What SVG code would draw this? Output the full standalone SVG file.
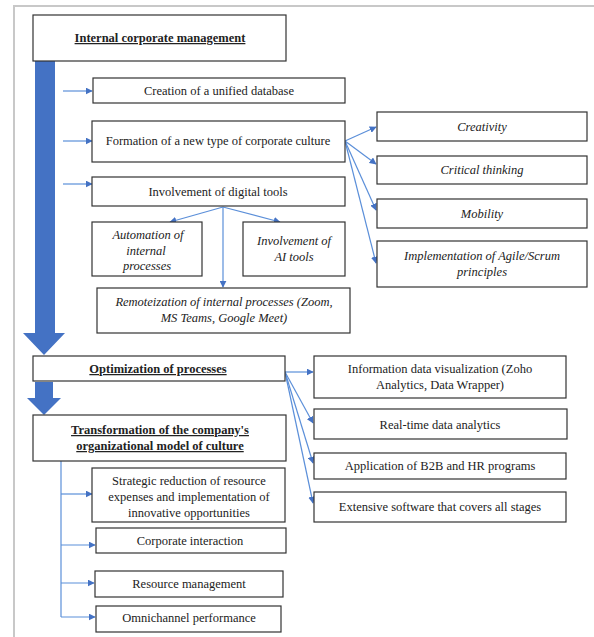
<svg xmlns="http://www.w3.org/2000/svg" width="594" height="637" viewBox="0 0 594 637">
<defs>
<marker id="ah" viewBox="0 0 10 10" refX="9" refY="5" markerWidth="7" markerHeight="7" orient="auto" markerUnits="userSpaceOnUse">
<path d="M0,0 L10,5 L0,10 z" fill="#4472C4"/>
</marker>
<style>
.box{fill:#fff;stroke:#333;stroke-width:1.2}
.t{font-family:"Liberation Serif","Times New Roman",serif;font-size:12.5px;fill:#222;text-anchor:middle}
.i{font-style:italic}
.b{font-weight:bold;text-decoration:underline}
.c{fill:none;stroke:#5B8FD9;stroke-width:1.2;marker-end:url(#ah)}
.cl{fill:none;stroke:#5B8FD9;stroke-width:1.2}
.big{fill:#4472C4}
</style>
</defs>
<rect width="594" height="637" fill="#fff"/>
<path d="M14,637 V6 H594" fill="none" stroke="#c8c8c8" stroke-width="2"/>

<g id="bigarrows">
<polygon class="big" points="35,61 55,61 55,333 65,333 44,355 23,333 35,333"/>
<polygon class="big" points="35,382 53,382 53,398 61,398 44,415 27,398 35,398"/>
</g>

<g id="connectors">
<line class="c" x1="63" y1="91" x2="92" y2="91"/>
<line class="c" x1="63" y1="141" x2="92" y2="141"/>
<line class="c" x1="63" y1="184" x2="92" y2="184"/>
<line class="c" x1="223" y1="207" x2="170" y2="222"/>
<line class="c" x1="223" y1="207" x2="280" y2="222"/>
<line class="c" x1="223" y1="207" x2="223" y2="287"/>
<line class="c" x1="345" y1="141" x2="376" y2="127"/>
<line class="c" x1="345" y1="141" x2="376" y2="164"/>
<line class="c" x1="345" y1="141" x2="376" y2="210"/>
<line class="c" x1="345" y1="141" x2="376" y2="263"/>
<line class="c" x1="285" y1="372" x2="313" y2="372"/>
<line class="c" x1="285" y1="372" x2="313" y2="423"/>
<line class="c" x1="285" y1="372" x2="313" y2="463"/>
<line class="c" x1="285" y1="372" x2="313" y2="503"/>
<line class="cl" x1="61" y1="461" x2="61" y2="617"/>
<line class="c" x1="61" y1="494" x2="92" y2="494"/>
<line class="c" x1="61" y1="545" x2="95" y2="545"/>
<line class="c" x1="61" y1="583" x2="94" y2="583"/>
<line class="c" x1="61" y1="617" x2="95" y2="617"/>
</g>

<g id="n-internal"><rect class="box" x="33" y="15" width="253" height="46"/><text class="t b" x="160" y="42">Internal corporate management</text></g>
<g id="n-creation"><rect class="box" x="93" y="78" width="252" height="25"/><text class="t" x="219" y="95">Creation of a unified database</text></g>
<g id="n-formation"><rect class="box" x="92" y="121" width="253" height="41"/><text class="t" x="218" y="145">Formation of a new type of corporate culture</text></g>
<g id="n-digital"><rect class="box" x="92" y="177" width="253" height="29"/><text class="t" x="218" y="196">Involvement of digital tools</text></g>
<g id="n-automation"><rect class="box" x="92" y="222" width="110" height="54"/><text class="t i" x="148" y="239">Automation of</text><text class="t i" x="146" y="255">internal</text><text class="t i" x="147" y="270">processes</text></g>
<g id="n-ai"><rect class="box" x="243" y="222" width="102" height="54"/><text class="t i" x="294" y="245">Involvement of</text><text class="t i" x="294" y="261">AI tools</text></g>
<g id="n-remote"><rect class="box" x="97" y="288" width="253" height="45"/><text class="t i" x="224" y="306">Remoteization of internal processes (Zoom,</text><text class="t i" x="224" y="322">MS Teams, Google Meet)</text></g>
<g id="n-creativity"><rect class="box" x="377" y="112" width="210" height="29"/><text class="t i" x="482" y="131">Creativity</text></g>
<g id="n-critical"><rect class="box" x="377" y="156" width="210" height="28"/><text class="t i" x="482" y="174">Critical thinking</text></g>
<g id="n-mobility"><rect class="box" x="377" y="199" width="210" height="29"/><text class="t i" x="482" y="218">Mobility</text></g>
<g id="n-agile"><rect class="box" x="377" y="241" width="210" height="46"/><text class="t i" x="482" y="260">Implementation of Agile/Scrum</text><text class="t i" x="482" y="276">principles</text></g>
<g id="n-optimization"><rect class="box" x="33" y="356" width="252" height="25"/><text class="t b" x="158" y="373">Optimization of processes</text></g>
<g id="n-infovis"><rect class="box" x="314" y="356" width="252" height="42"/><text class="t" x="440" y="373">Information data visualization (Zoho</text><text class="t" x="440" y="389">Analytics, Data Wrapper)</text></g>
<g id="n-realtime"><rect class="box" x="314" y="409" width="253" height="30"/><text class="t" x="440" y="429">Real-time data analytics</text></g>
<g id="n-b2b"><rect class="box" x="314" y="453" width="252" height="26"/><text class="t" x="440" y="470">Application of B2B and HR programs</text></g>
<g id="n-extensive"><rect class="box" x="314" y="492" width="252" height="30"/><text class="t" x="440" y="511">Extensive software that covers all stages</text></g>
<g id="n-transformation"><rect class="box" x="33" y="415" width="253" height="46"/><text class="t b" x="160" y="434">Transformation of the company's</text><text class="t b" x="160" y="450">organizational model of culture</text></g>
<g id="n-strategic"><rect class="box" x="92" y="468" width="193" height="54"/><text class="t" x="189" y="485">Strategic reduction of resource</text><text class="t" x="189" y="501">expenses and implementation  of</text><text class="t" x="189" y="517">innovative opportunities</text></g>
<g id="n-corporate"><rect class="box" x="96" y="528" width="190" height="25"/><text class="t" x="190" y="545">Corporate interaction</text></g>
<g id="n-resource"><rect class="box" x="95" y="571" width="188" height="26"/><text class="t" x="189" y="588">Resource management</text></g>
<g id="n-omni"><rect class="box" x="96" y="606" width="185" height="26"/><text class="t" x="189" y="622">Omnichannel performance</text></g>
</svg>
